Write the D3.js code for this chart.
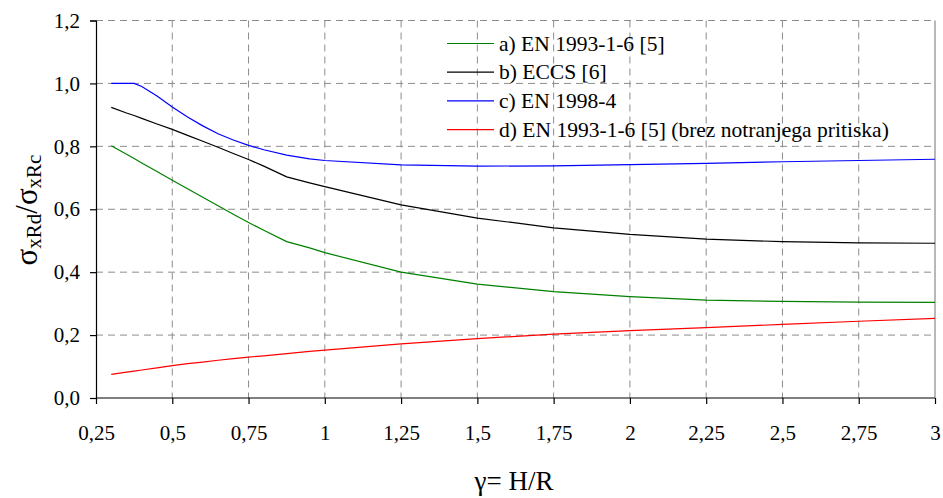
<!DOCTYPE html>
<html><head><meta charset="utf-8">
<script src="https://cdn.jsdelivr.net/npm/d3@7/dist/d3.min.js"></script>
<style>body{margin:0;background:#fff}svg{display:block}</style>
</head><body><svg id="c" width="943" height="498"></svg>
<script>
const gammaX = [0.3, 0.35, 0.375, 0.4, 0.45, 0.5, 0.55, 0.6, 0.65, 0.7, 0.75, 0.8, 0.875, 0.95, 1, 1.25, 1.5, 1.75, 2, 2.25, 2.5, 2.75, 3];
const seriesA = [0.802, 0.775, 0.761, 0.747, 0.72, 0.692, 0.665, 0.638, 0.611, 0.584, 0.558, 0.533, 0.497, 0.477, 0.462, 0.40, 0.362, 0.338, 0.322, 0.311, 0.307, 0.305, 0.304];
const seriesB = [0.924, 0.906, 0.898, 0.889, 0.871, 0.854, 0.835, 0.816, 0.797, 0.777, 0.758, 0.737, 0.703, 0.684, 0.672, 0.614, 0.572, 0.541, 0.520, 0.505, 0.497, 0.493, 0.492];
const seriesC = [1.0, 1.0, 1.0, 0.99, 0.96, 0.925, 0.893, 0.865, 0.84, 0.82, 0.803, 0.789, 0.772, 0.76, 0.755, 0.741, 0.737, 0.738, 0.742, 0.746, 0.751, 0.755, 0.759];
const seriesD = [0.075, 0.082, 0.0855, 0.089, 0.096, 0.103, 0.109, 0.114, 0.12, 0.125, 0.13, 0.134, 0.141, 0.148, 0.152, 0.172, 0.189, 0.203, 0.214, 0.224, 0.234, 0.244, 0.253];
const seriesNames = ["a) EN 1993-1-6 [5]", "b) ECCS [6]", "c) EN 1998-4", "d) EN 1993-1-6 [5] (brez notranjega pritiska)"];
const seriesColors = ["#008000", "#000000", "#0000ff", "#ff0000"];
const xTicks = [0.25, 0.5, 0.75, 1, 1.25, 1.5, 1.75, 2, 2.25, 2.5, 2.75, 3];
const yTicks = [0, 0.2, 0.4, 0.6, 0.8, 1.0, 1.2];

// pick an installed serif font, if any
const cv = document.createElement("canvas").getContext("2d");
function has(f) {
  const s = "abcdefghijklmnopqrstuvwxyz 0123456789 ECCS";
  cv.font = `40px monospace`; const w0 = cv.measureText(s).width;
  cv.font = `40px "${f}", monospace`; return cv.measureText(s).width !== w0;
}
const cands = ["Liberation Serif", "Times New Roman", "Tinos", "DejaVu Serif", "Noto Serif", "FreeSerif", "Nimbus Roman"];
const found = cands.find(has);
const FONT = found ? `"${found}", serif` : `"Liberation Sans", sans-serif`;

const svg = d3.select("#c");
const L = 96, R = 935, T = 20.5, B = 398;
const x = d3.scaleLinear().domain([0.25, 3]).range([L, R]);
const y = d3.scaleLinear().domain([0, 1.2]).range([B, T]);
const fmt = v => String(+v.toFixed(2)).replace(".", ",");
const fmtY = v => v.toFixed(1).replace(".", ",");

// grid
const g = svg.append("g");
g.selectAll(".gx").data(xTicks.slice(1, -1)).join("line")
  .attr("x1", d => x(d)).attr("x2", d => x(d)).attr("y1", T).attr("y2", B)
  .attr("stroke", "#8c8c8c").attr("stroke-dasharray", "7,5");
g.selectAll(".gy").data(yTicks.slice(1)).join("line")
  .attr("x1", L).attr("x2", R).attr("y1", d => y(d)).attr("y2", d => y(d))
  .attr("stroke", "#8c8c8c").attr("stroke-dasharray", "7,5");
g.append("line").attr("x1", R).attr("x2", R).attr("y1", T).attr("y2", B)
  .attr("stroke", "#a0a0a0").attr("stroke-width", 1.5);

// axes
const tickSize = found ? 21 : 19;
const xa = svg.append("g").attr("transform", `translate(0,${B})`)
  .call(d3.axisBottom(x).tickValues(xTicks).tickFormat(fmt).tickSize(6).tickPadding(21));
const ya = svg.append("g").attr("transform", `translate(${L},0)`)
  .call(d3.axisLeft(y).tickValues(yTicks).tickFormat(fmtY).tickSize(6).tickPadding(10));
[xa, ya].forEach(a => {
  a.attr("font-family", FONT).attr("font-size", tickSize);
  a.select(".domain").attr("stroke", "#000").attr("stroke-width", 1.2);
  a.selectAll(".tick line").attr("stroke", "#000").attr("stroke-width", 1.2);
  a.selectAll(".tick text").attr("fill", "#000");
});
xa.select(".domain").attr("d", `M${L},0H${R}`);

// lines
const allSeries = [seriesA, seriesB, seriesC, seriesD];
const line = d3.line().x(d => x(d[0])).y(d => y(d[1])).curve(d3.curveLinear);
allSeries.forEach((s, i) => {
  svg.append("path").datum(gammaX.map((v, k) => [v, s[k]]))
    .attr("d", line).attr("fill", "none").attr("stroke", seriesColors[i]).attr("stroke-width", 1.2);
});

// legend (font size fitted so the longest entry spans ~390px)
cv.font = `100px ${FONT}`;
const legSize = Math.min(23, 100 * 390 / cv.measureText(seriesNames[3]).width);
const lg = svg.append("g").attr("font-family", FONT).attr("font-size", legSize);
seriesNames.forEach((n, i) => {
  const yy = 43.5 + i * 28.7;
  lg.append("line").attr("x1", 447).attr("x2", 494).attr("y1", yy).attr("y2", yy)
    .attr("stroke", seriesColors[i]).attr("stroke-width", 1.2);
  lg.append("text").attr("x", 499).attr("y", yy + legSize * 0.33).text(n).attr("fill", "#000");
});

// axis titles
svg.append("text").attr("x", 514).attr("y", 490).attr("text-anchor", "middle")
  .attr("font-family", FONT).attr("font-size", 27).text("γ= H/R");
const yt = svg.append("text").attr("transform", "translate(37,210) rotate(-90)")
  .attr("text-anchor", "middle").attr("font-family", FONT).attr("font-size", 31);
yt.append("tspan").text("σ");
yt.append("tspan").attr("dy", 4).attr("font-size", 21).text("xRd");
yt.append("tspan").attr("dy", -4).text("/σ");
yt.append("tspan").attr("dy", 4).attr("font-size", 21).text("xRc");
</script></body></html>
